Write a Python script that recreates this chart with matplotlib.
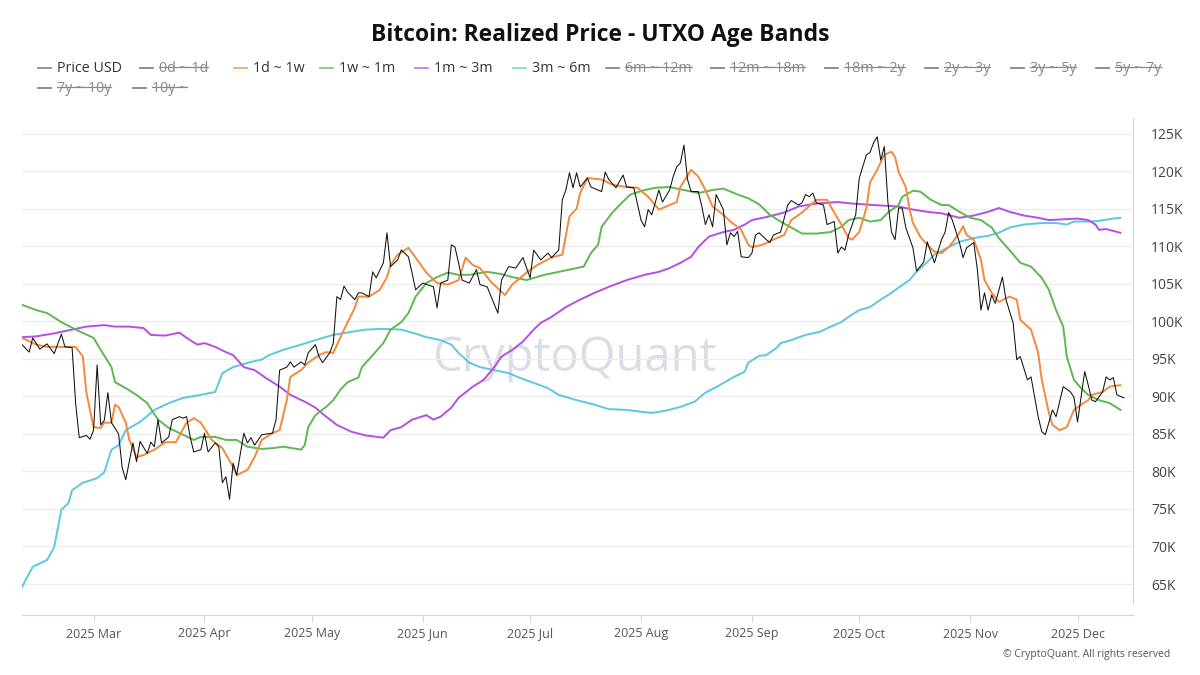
import pandas as pd
import matplotlib
matplotlib.use("Agg")
import matplotlib.pyplot as plt
import matplotlib.dates as mdates
from matplotlib.lines import Line2D

plt.rcParams['font.family'] = ['Open Sans', 'DejaVu Sans']

# Data: (days after 2025-02-09, value in K USD)
start = pd.Timestamp("2025-02-09")

price = [(0,96.9),(2,95.9),(3,97.8),(5,96.3),(7,97.0),(9,95.7),(11,98.3),(12,96.6),(14,96.5),(15,89.0),
    (16,84.5),(18,84.8),(19,84.3),(20,85.5),(21,94.2),(22,86.2),(23,86.8),(24,90.5),(25,86.5),(27,85.0),
    (28,80.5),(29,78.9),(31,83.8),(32,81.3),(33,84.0),(35,82.4),(36,83.9),(37,83.3),(38,86.9),(39,83.8),
    (41,84.6),(42,86.9),(44,87.3),(45,87.1),(46,87.3),(47,84.6),(48,82.6),(50,82.9),(51,85.1),(52,82.6),
    (54,83.8),(55,83.3),(56,78.5),(57,79.3),(58,76.3),(59,81.1),(60,79.5),(62,85.1),(63,83.8),(64,84.5),
    (65,83.5),(67,84.9),(70,85.1),(71,86.9),(72,93.5),(74,93.9),(75,94.6),(76,93.9),(78,94.6),(79,94.2),
    (80,95.8),(82,96.9),(83,95.3),(84,94.5),(86,95.8),(87,97.1),(88,103.3),(89,102.9),(90,104.7),(91,103.9),
    (93,102.9),(94,103.8),(95,103.8),(97,103.3),(98,106.6),(99,105.8),(101,107.8),(102,111.8),(103,107.3),
    (105,108.2),(106,109.5),(108,108.6),(109,106.5),(110,104.2),(112,105.1),(115,104.6),(116,101.8),
    (117,105.1),(119,105.5),(120,110.2),(121,109.9),(122,107.8),(123,105.5),(125,105.1),(127,106.9),
    (128,104.9),(130,104.6),(133,101.1),(134,105.5),(136,107.3),(138,107.1),(140,108.5),(142,105.8),
    (143,109.5),(145,108.2),(147,109.1),(148,108.5),(150,109.5),(151,116.2),(152,117.5),(153,119.8),
    (154,117.8),(155,119.8),(156,117.9),(158,119.1),(159,117.9),(162,117.3),(163,119.9),(164,118.9),
    (166,117.8),(168,119.5),(169,117.9),(171,117.8),(173,113.5),(174,112.6),(175,114.9),(176,114.2),
    (178,117.5),(179,115.9),(181,117.5),(182,119.3),(183,120.6),(184,121.1),(185,123.5),(186,118.9),
    (187,117.3),(189,117.3),(190,115.3),(191,112.9),(192,114.2),(193,112.6),(194,116.9),(196,114.9),
    (197,110.2),(198,111.8),(199,111.3),(200,112.0),(201,108.6),(203,108.5),(204,109.1),(205,111.5),
    (206,111.8),(208,110.9),(209,110.5),(210,111.5),(212,111.9),(214,115.5),(215,116.1),(217,115.5),
    (218,115.8),(219,116.9),(220,116.6),(221,117.1),(222,115.8),(224,115.5),(225,112.9),(227,113.3),
    (228,109.1),(229,109.9),(230,109.5),(231,111.5),(233,114.2),(234,119.1),(236,122.2),(237,122.5),
    (238,123.8),(239,124.6),(240,121.5),(241,123.3),(242,115.9),(243,111.9),(244,110.9),(245,115.1),
    (246,115.1),(247,112.5),(249,109.8),(250,106.7),(252,107.9),(253,110.6),(255,107.8),(257,110.9),
    (258,111.9),(259,114.5),(260,113.5),(262,110.5),(263,108.5),(264,109.8),(266,110.5),(267,106.9),
    (268,101.5),(269,103.8),(270,101.5),(271,103.5),(272,102.4),(274,105.9),(275,102.9),(277,99.8),
    (278,94.9),(279,95.3),(281,92.2),(282,92.6),(284,87.3),(285,85.3),(286,84.9),(288,88.2),(289,87.3),
    (291,91.3),(293,90.6),(294,89.9),(295,86.6),(297,93.3),(298,91.5),(299,89.5),(300,89.3),(302,90.6),
    (303,92.6),(304,92.2),(305,92.5),(306,90.2),(308,89.8)]

band_1d_1w = [(0,97.8),(4,96.9),(7,96.6),(15,96.6),(17,95.3),(18,90.5),(20,85.9),(22,85.8),(23,86.5),
    (25,86.5),(26,88.9),(27,88.6),(29,86.5),(30,84.2),(32,81.9),(34,82.2),(37,82.9),(40,83.9),(43,83.9),
    (46,86.5),(48,87.1),(50,86.5),(53,84.2),(56,83.1),(59,80.6),(60,79.5),(63,80.2),(65,81.9),(67,84.2),
    (70,85.1),(72,85.5),(74,89.5),(75,92.6),(78,93.5),(80,94.5),(83,95.5),(85,95.9),(87,95.8),(90,98.9),
    (93,101.8),(94,103.3),(97,103.3),(100,104.2),(102,105.9),(103,107.5),(105,108.9),(108,109.8),
    (110,108.5),(113,106.5),(116,105.1),(119,104.9),(122,105.5),(124,108.5),(126,107.5),(128,107.1),
    (131,105.3),(135,103.5),(137,104.9),(141,106.5),(144,107.5),(148,108.5),(151,108.9),(153,114.0),
    (155,115.0),(156,117.1),(158,119.1),(162,118.9),(165,118.2),(169,117.9),(172,117.8),(175,116.6),
    (178,114.9),(180,115.3),(183,115.9),(184,117.9),(187,120.2),(189,119.3),(191,117.5),(193,115.3),
    (196,114.2),(198,113.3),(201,112.2),(203,110.2),(204,109.9),(207,110.2),(210,110.9),(213,111.5),
    (215,113.5),(218,114.5),(222,116.2),(225,116.2),(227,114.5),(229,112.9),(231,111.1),(232,110.9),
    (234,111.9),(236,115.1),(237,118.5),(239,120.2),(241,122.2),(243,122.6),(244,121.9),(245,119.9),
    (247,117.9),(248,115.1),(249,113.1),(251,111.3),(253,110.2),(255,109.3),(257,109.1),(259,109.9),
    (260,110.5),(262,111.8),(263,112.7),(264,111.5),(266,110.9),(268,108.2),(269,105.5),(271,103.8),
    (273,102.6),(276,103.3),(278,102.9),(279,100.2),(282,98.9),(284,95.8),(285,92.2),(287,87.8),
    (288,86.2),(290,85.5),(292,85.9),(294,88.2),(296,88.9),(298,89.5),(299,90.2),(302,90.6),(304,91.3),
    (307,91.5)]

band_1w_1m = [(0,102.2),(4,101.5),(7,101.1),(11,99.9),(15,98.9),(20,97.8),(22,96.2),(25,93.9),(26,91.9),
    (29,91.1),(32,90.2),(35,89.1),(38,86.9),(41,85.8),(45,84.9),(48,84.2),(50,84.6),(54,84.6),(57,84.2),
    (60,84.2),(63,83.3),(67,83.0),(70,83.1),(73,83.3),(78,82.9),(79,83.5),(80,85.9),(82,87.5),(85,88.6),
    (87,89.5),(89,90.9),(91,91.9),(94,92.5),(95,93.9),(98,95.5),(101,97.1),(103,98.9),(106,99.9),
    (108,101.1),(110,103.3),(113,105.1),(116,105.9),(119,106.5),(122,106.2),(125,106.2),(130,106.6),
    (134,106.3),(137,105.9),(141,105.5),(146,106.2),(150,106.6),(153,106.9),(157,107.3),(159,109.1),
    (161,110.2),(162,112.6),(165,114.5),(167,115.5),(170,116.9),(174,117.5),(177,117.8),(181,117.9),
    (185,117.5),(189,117.1),(193,117.5),(196,117.7),(200,116.9),(203,116.4),(206,115.6),(209,114.2),
    (212,113.3),(215,112.5),(218,111.7),(222,111.7),(226,111.9),(229,112.6),(231,113.5),(234,113.8),
    (237,113.3),(240,113.5),(242,114.5),(245,115.5),(246,116.6),(249,117.4),(251,117.3),(254,116.2),
    (257,115.5),(259,115.5),(262,114.6),(265,113.8),(268,113.5),(271,112.5),(273,111.1),(276,109.5),
    (279,107.8),(282,107.3),(285,105.8),(287,104.2),(289,101.5),(291,99.3),(292,95.3),(294,92.2),
    (296,91.1),(298,90.2),(301,89.5),(304,89.1),(307,88.2)]

band_1m_3m = [(0,97.9),(4,98.0),(9,98.4),(15,99.0),(18,99.3),(23,99.5),(26,99.3),(30,99.3),(34,99.1),
    (36,98.2),(40,98.1),(44,98.5),(46,97.8),(49,96.9),(51,97.1),(54,96.6),(57,95.9),(59,95.5),(62,93.9),
    (65,93.5),(68,92.5),(72,91.3),(75,90.2),(79,89.3),(82,88.5),(85,87.3),(88,86.2),(92,85.3),(96,84.8),
    (101,84.5),(103,85.5),(106,85.9),(109,86.9),(113,87.5),(115,86.9),(117,87.3),(120,88.5),(122,89.8),
    (126,91.3),(129,92.2),(132,93.9),(134,95.3),(137,96.2),(140,97.3),(143,98.9),(145,99.8),(148,100.6),
    (152,101.9),(156,102.9),(160,103.8),(164,104.6),(169,105.5),(174,106.2),(178,106.6),(181,107.1),
    (184,107.8),(187,108.6),(189,109.9),(192,111.3),(196,111.9),(199,112.2),(202,112.9),(204,113.5),
    (208,113.9),(213,114.5),(217,115.3),(222,115.7),(228,115.9),(232,115.7),(238,115.5),(245,115.3),
    (249,114.9),(253,114.6),(257,114.4),(262,113.8),(266,114.1),(270,114.6),(273,115.1),(276,114.6),
    (280,114.1),(284,113.8),(287,113.5),(291,113.6),(295,113.7),(298,113.5),(300,112.9),(301,112.2),
    (303,112.3),(307,111.8)]

band_3m_6m = [(0,64.6),(3,67.3),(7,68.2),(9,69.9),(11,74.9),(13,75.8),(14,77.5),(17,78.5),(21,79.1),
    (23,79.9),(25,82.9),(27,83.5),(29,85.5),(33,86.6),(37,88.2),(41,89.1),(45,89.8),(50,90.2),(54,90.6),
    (56,93.1),(59,93.9),(64,94.6),(67,94.9),(69,95.5),(73,96.2),(78,96.9),(82,97.5),(87,98.2),(92,98.6),
    (96,98.9),(101,99.0),(106,98.9),(109,98.5),(113,97.9),(117,97.5),(120,96.9),(122,95.8),(125,94.5),
    (128,93.9),(132,93.5),(136,93.1),(139,92.5),(143,91.8),(147,91.1),(150,90.2),(155,89.5),(160,88.9),
    (164,88.3),(169,88.2),(174,87.9),(176,87.8),(180,88.1),(184,88.6),(188,89.3),(191,90.5),(195,91.5),
    (199,92.6),(202,93.3),(203,94.5),(206,95.4),(208,95.5),(211,96.5),(212,97.1),(215,97.5),(219,98.2),
    (223,98.6),(226,99.3),(229,99.9),(231,100.6),(234,101.5),(237,101.9),(240,102.9),(243,103.8),
    (245,104.5),(248,105.5),(250,106.6),(253,107.9),(255,108.9),(259,109.9),(262,110.6),(266,111.1),
    (270,111.4),(273,111.8),(276,112.5),(280,112.9),(285,113.1),(289,113.1),(292,112.9),(294,113.3),
    (298,113.3),(301,113.4),(305,113.7),(307,113.8)]

legend_labels = ["Price USD", "0d ~ 1d", "1d ~ 1w", "1w ~ 1m", "1m ~ 3m", "3m ~ 6m", "6m ~ 12m",
                 "12m ~ 18m", "18m ~ 2y", "2y ~ 3y", "3y ~ 5y", "5y ~ 7y", "7y ~ 10y", "10y ~"]
legend_shown = [True, False, True, True, True, True, False, False, False, False, False, False, False, False]

c_orange = "#f5883c"
c_green = "#5cb84f"
c_purple = "#b44fe6"
c_cyan = "#5bc7e2"


def unpack(series):
    days = [d for d, _ in series]
    vals = [v * 1000 for _, v in series]
    return start + pd.to_timedelta(days, unit="D"), vals


W, H = 1200, 675
fig = plt.figure(figsize=(W / 100, H / 100), dpi=100)
ax = fig.add_axes([22 / W, 1 - 615 / H, (1133 - 22) / W, (615 - 118) / H])

# watermark
ax.text(0.497, 0.516, "CryptoQuant", transform=ax.transAxes, fontsize=34, color="#dcdde4",
        ha="center", va="center", zorder=0)

for series, col, lw in [(band_3m_6m, c_cyan, 1.4), (band_1m_3m, c_purple, 1.4),
                        (band_1w_1m, c_green, 1.4), (band_1d_1w, c_orange, 1.4),
                        (price, "#111111", 0.75)]:
    d, v = unpack(series)
    ax.plot(d, v, color=col, lw=lw, zorder=3)

ax.set_xlim(start, start + pd.Timedelta(days=310.5))
ax.set_ylim(60870, 127100)

ax.yaxis.tick_right()
ax.set_yticks([k * 1000 for k in range(65, 130, 5)])
ax.yaxis.set_major_formatter(plt.FuncFormatter(lambda y, p: f"{int(round(y / 1000))}K"))
ax.tick_params(axis="y", length=0, pad=13, labelsize=10, labelcolor="#444444")
ax.grid(axis="y", color="#ececec", lw=0.8)
ax.set_axisbelow(True)

ax.xaxis.set_major_locator(mdates.MonthLocator())
ax.xaxis.set_major_formatter(mdates.DateFormatter("%Y %b"))
ax.tick_params(axis="x", length=5, width=0.8, color="#d6d6d6", pad=4, labelsize=9,
               labelcolor="#555555")

for s in ["top", "left"]:
    ax.spines[s].set_visible(False)
ax.spines["bottom"].set_color("#d6d6d6")
ax.spines["right"].set_color("#d6d6d6")
ax.spines["right"].set_bounds(62500, 127100)

fig.text(0.5, 1 - 35 / H, "Bitcoin: Realized Price - UTXO Age Bands", ha="center", va="center",
         fontsize=16.5, fontweight="bold", color="#111111")

# manual legend (hidden series drawn with strikethrough)
leg_colors = ["#666666", "#777777", c_orange, c_green, c_purple, c_cyan] + ["#777777"] * 8
leg_x = [38, 140, 234, 320, 415, 513, 606, 711, 825, 925, 1011, 1096, 38, 133]
leg_row = [68] * 12 + [88] * 2
renderer = fig.canvas.get_renderer()
for lab, shown, col, x, y in zip(legend_labels, legend_shown, leg_colors, leg_x, leg_row):
    yf = 1 - y / H
    fig.add_artist(Line2D([x / W, (x + 13) / W], [yf, yf], color=col, lw=1.3,
                          alpha=0.75 if shown else 0.9))
    t = fig.text((x + 19) / W, yf, lab, ha="left", va="center", fontsize=10.3,
                 color="#333333" if shown else "#888888")
    if not shown:
        bb = t.get_window_extent(renderer=renderer)
        ys = (bb.y0 + bb.y1) / 2 / H + 0.001
        fig.add_artist(Line2D([bb.x0 / W, bb.x1 / W], [ys, ys], color="#888888", lw=0.9))

fig.text(1170 / W, 1 - 655 / H, "\u00a9 CryptoQuant. All rights reserved", ha="right", va="center",
         fontsize=7.5, color="#555555")

fig.savefig("out.png", dpi=100)
